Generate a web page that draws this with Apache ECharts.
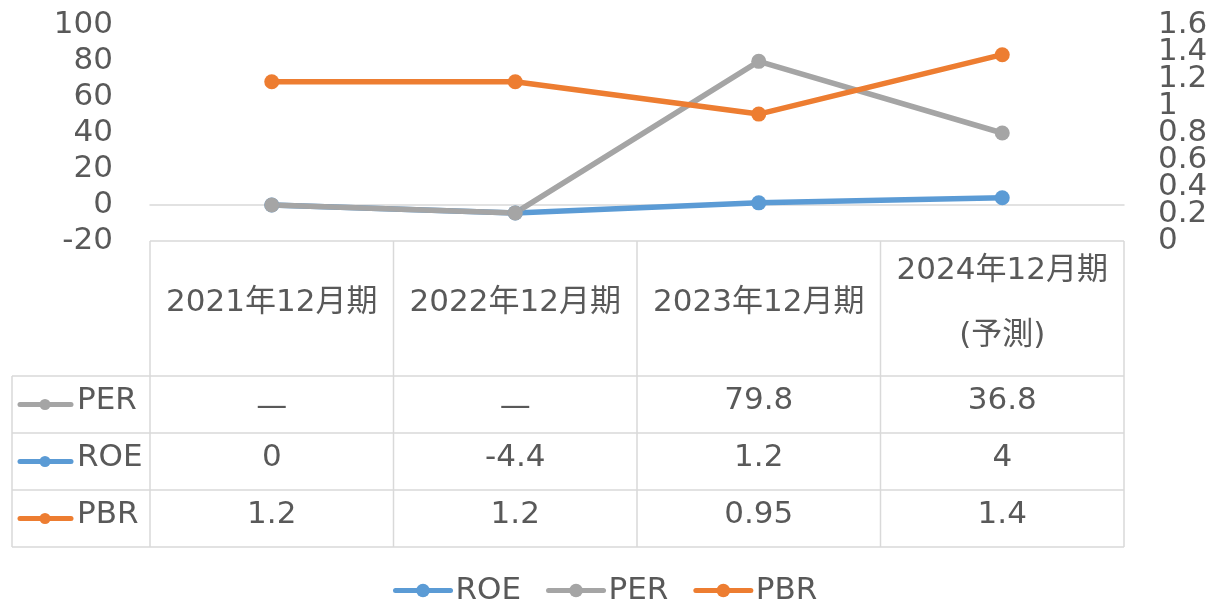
<!DOCTYPE html>
<html>
<head>
<meta charset="utf-8">
<script src="https://cdn.jsdelivr.net/npm/echarts@6/dist/echarts.min.js"></script>
<style>
  html, body { margin: 0; padding: 0; background: #fff; }
  #main { width: 1211px; height: 600px; }
</style>
</head>
<body>
<div id="main"></div>
<script>
// データ
const categories = ['2021年12月期', '2022年12月期', '2023年12月期', '2024年12月期\n(予測)'];
const roeValues = [0, -4.4, 1.2, 4];
const perValues = [0, -4.4, 79.8, 40];
const pbrValues = [1.18, 1.18, 0.94, 1.38];
// データテーブルの表示文字
const perTable = ['—', '—', '79.8', '36.8'];
const roeTable = ['0', '-4.4', '1.2', '4'];
const pbrTable = ['1.2', '1.2', '0.95', '1.4'];
const leftAxis = { min: -20, max: 100, interval: 20 };
const rightAxis = { min: 0, max: 1.6, interval: 0.2 };

const COLORS = { roe: '#5B9BD5', per: '#A5A5A5', pbr: '#ED7D31' };
const FONT = '"DejaVu Sans", "Noto Sans CJK JP", sans-serif';
const FS = 31;
const TEXT = '#595959';
const BORDER = '#d9d9d9';

const W = 1211;
const gridLeft = 150, gridRight = 1124, gridTop = 25, gridBottom = 241;
const headerBottom = 376, rowH = 57, tableLeft = 12;

const chart = echarts.init(document.getElementById('main'), null, { renderer: 'canvas' });

function lineSeries(name, data, color, yAxisIndex) {
  return {
    name: name,
    type: 'line',
    yAxisIndex: yAxisIndex,
    data: data,
    symbol: 'circle',
    symbolSize: 15,
    lineStyle: { width: 5.5, color: color, cap: 'round' },
    itemStyle: { color: color },
    emphasis: { disabled: true },
    animation: false
  };
}

function rightY(labelOpt) {
  return {
    type: 'value', position: 'right',
    min: rightAxis.min, max: rightAxis.max, interval: rightAxis.interval,
    axisLine: { show: false }, axisTick: { show: false }, splitLine: { show: false },
    axisLabel: Object.assign({ fontFamily: FONT, fontSize: FS, color: TEXT, margin: 34 }, labelOpt)
  };
}
const isEnd = v => Math.abs(v - rightAxis.min) < 1e-6 || Math.abs(v - rightAxis.max) < 1e-6;

chart.setOption({
  animation: false,
  grid: { left: gridLeft, right: W - gridRight, top: gridTop, height: gridBottom - gridTop },
  legend: {
    left: 388, top: 570,
    itemWidth: 55, itemHeight: 17, itemGap: 25,
    lineStyle: { width: 5 },
    textStyle: { fontFamily: FONT, fontSize: FS, color: TEXT },
    data: ['ROE', 'PER', 'PBR']
  },
  xAxis: {
    type: 'category',
    data: categories,
    boundaryGap: true,
    axisLine: { show: true, onZero: true, lineStyle: { color: BORDER, width: 1.5 } },
    axisTick: { show: false },
    axisLabel: { show: false },
    splitLine: { show: false }
  },
  yAxis: [
    {
      type: 'value', min: leftAxis.min, max: leftAxis.max, interval: leftAxis.interval,
      axisLine: { show: false }, axisTick: { show: false }, splitLine: { show: false },
      axisLabel: { fontFamily: FONT, fontSize: FS, color: TEXT, margin: 37, showMinLabel: true, showMaxLabel: true }
    },
    // 右軸: 中間ラベル
    rightY({ showMinLabel: false, showMaxLabel: false }),
    // 右軸: 両端ラベル (0 と 1.6) — 詰まって隠れないよう別軸で表示
    rightY({ showMinLabel: true, showMaxLabel: true, formatter: v => isEnd(v) ? String(+v.toFixed(1)) : '' })
  ],
  series: [
    lineSeries('ROE', roeValues, COLORS.roe, 0),
    lineSeries('PER', perValues, COLORS.per, 0),
    lineSeries('PBR', pbrValues, COLORS.pbr, 1)
  ]
});

// データテーブル
const centers = categories.map((c, i) => chart.convertToPixel({ xAxisIndex: 0 }, i));
const bounds = [gridLeft];
for (let i = 0; i < centers.length - 1; i++) bounds.push((centers[i] + centers[i + 1]) / 2);
bounds.push(gridRight);

const g = [];
function hline(x1, x2, y) {
  g.push({ type: 'line', shape: { x1: x1, y1: y, x2: x2, y2: y }, style: { stroke: BORDER, lineWidth: 1.5 }, silent: true });
}
function vline(x, y1, y2) {
  g.push({ type: 'line', shape: { x1: x, y1: y1, x2: x, y2: y2 }, style: { stroke: BORDER, lineWidth: 1.5 }, silent: true });
}
function text(str, x, y, align, lh) {
  g.push({
    type: 'text', silent: true,
    style: {
      text: str, x: x, y: y, fill: TEXT, fontFamily: FONT, fontSize: FS,
      align: align || 'center', verticalAlign: 'middle', lineHeight: lh || 36
    }
  });
}

const tableBottom = headerBottom + rowH * 3;
hline(gridLeft, gridRight, gridBottom);
for (let r = 0; r <= 3; r++) hline(tableLeft, gridRight, headerBottom + rowH * r);
vline(tableLeft, headerBottom, tableBottom);
bounds.forEach(x => vline(x, gridBottom, tableBottom));

// ヘッダー
categories.forEach((c, i) => text(c, centers[i], 303, 'center', 65));

const rows = [
  { name: 'PER', color: COLORS.per, vals: perTable },
  { name: 'ROE', color: COLORS.roe, vals: roeTable },
  { name: 'PBR', color: COLORS.pbr, vals: pbrTable }
];
rows.forEach((row, r) => {
  const cy = headerBottom + rowH * r + rowH / 2;
  g.push({ type: 'line', silent: true, shape: { x1: 20, y1: cy, x2: 71, y2: cy },
    style: { stroke: row.color, lineWidth: 5, lineCap: 'round' } });
  g.push({ type: 'circle', silent: true, shape: { cx: 45, cy: cy, r: 5.5 }, style: { fill: row.color } });
  text(row.name, 77, cy - 4, 'left');
  row.vals.forEach((v, i) => text(v, centers[i], v === '—' ? cy + 2 : cy - 4, 'center'));
});

chart.setOption({ graphic: { elements: g } });
</script>
</body>
</html>
